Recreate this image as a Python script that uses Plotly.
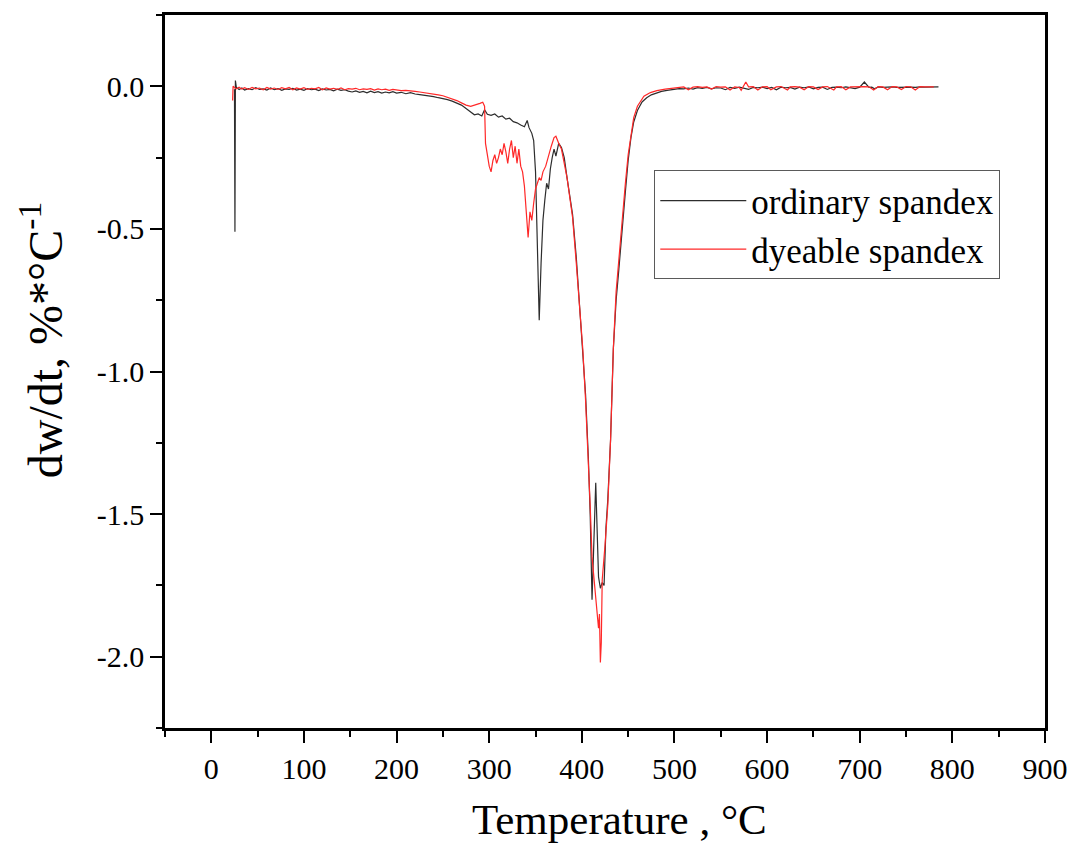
import plotly.graph_objects as go

# ---------------- data ----------------
ord_T = [25, 25.5, 26, 27, 30, 33, 36, 40, 44, 48, 52, 56, 60, 64, 68, 72, 76, 80, 84, 88, 92, 96,
         100, 104, 108, 112, 116, 120, 124, 128, 132, 136, 140, 144, 148, 152, 156, 160, 164, 168,
         172, 176, 180, 184, 188, 192, 196, 200, 205, 210, 215, 220, 225, 230, 235, 240, 245, 250,
         255, 260, 265, 270, 275, 280, 284, 288, 292, 295, 298, 302, 306, 310, 314, 318, 322, 326,
         330, 334, 338, 341, 343, 346, 348, 350, 352, 354, 356, 358, 360, 362, 364, 366, 368, 370,
         372, 375, 378, 381, 384, 387, 390, 394, 398, 401, 404, 407, 409, 411, 413, 415, 416, 418,
         420, 422, 424, 426, 428, 431, 434, 437, 440, 444, 447, 450, 453, 456, 460, 465, 470, 475,
         480, 486, 492, 500, 505, 510, 515, 520, 525, 530, 535, 540, 545, 550, 555, 560, 565, 570,
         575, 580, 585, 590, 595, 600, 605, 610, 615, 620, 625, 630, 635, 640, 645, 650, 655, 660,
         665, 670, 675, 680, 685, 690, 695, 700, 705, 710, 713, 716, 720, 725, 730, 735, 740, 745,
         750, 755, 760, 765, 770, 775, 780, 785, 790, 797]
ord_V = [-0.01, -0.51, 0.02, -0.004, -0.011, -0.006, -0.013, -0.008, -0.012, -0.005, -0.011, -0.009,
         -0.013, -0.006, -0.012, -0.008, -0.014, -0.009, -0.011, -0.007, -0.013, -0.01,
         -0.014, -0.008, -0.012, -0.01, -0.015, -0.009, -0.013, -0.011, -0.016, -0.01, -0.014,
         -0.012, -0.017, -0.02, -0.016, -0.021, -0.018, -0.023, -0.017, -0.022, -0.019, -0.024,
         -0.02, -0.023, -0.019, -0.024, -0.021, -0.026, -0.022, -0.027, -0.029, -0.031, -0.034,
         -0.036, -0.04, -0.043, -0.047, -0.052, -0.058, -0.066, -0.078, -0.092, -0.1, -0.097,
         -0.104, -0.082, -0.098, -0.102, -0.097, -0.108, -0.104, -0.115, -0.112, -0.124, -0.128,
         -0.136, -0.142, -0.12, -0.145, -0.165, -0.19, -0.3, -0.6, -0.82, -0.62, -0.47, -0.4,
         -0.34, -0.36, -0.29, -0.25, -0.22, -0.245, -0.2, -0.215, -0.25, -0.32, -0.38, -0.45, -0.6,
         -0.78, -0.92, -1.08, -1.3, -1.5, -1.8, -1.6, -1.39, -1.5, -1.72, -1.76, -1.74, -1.75,
         -1.55, -1.45, -1.24, -0.92, -0.75, -0.64, -0.5, -0.37, -0.26, -0.18, -0.125, -0.085,
         -0.055, -0.04, -0.03, -0.024, -0.018, -0.014, -0.01, -0.008, -0.009, -0.006, -0.01,
         -0.005, -0.007, -0.004, -0.009, -0.005, -0.006, -0.012, -0.004, -0.007, -0.003, -0.006,
         -0.011, -0.004, -0.005, -0.003, -0.008, -0.004, -0.012, -0.003, -0.005, -0.004, -0.01,
         -0.003, -0.005, -0.002, -0.009, -0.004, -0.003, -0.011, -0.004, -0.003, -0.005, -0.002,
         -0.004, -0.008, -0.003, 0.015, -0.004, -0.003, -0.009, -0.002, -0.004, -0.003, -0.002,
         -0.004, -0.003, -0.002, -0.003, -0.004, -0.002, -0.003, -0.002, -0.003, -0.002]

dye_T = [23, 23.5, 25, 27, 30, 33, 36, 40, 44, 48, 52, 56, 60, 64, 68, 72, 76, 80, 84, 88, 92, 96,
         100, 104, 108, 112, 116, 120, 124, 128, 132, 136, 140, 144, 148, 152, 156, 160, 164, 168,
         172, 176, 180, 184, 188, 192, 196, 200, 205, 210, 215, 220, 225, 230, 235, 240, 245, 250,
         255, 260, 265, 270, 275, 280, 285, 290, 293, 295, 296, 298, 300, 302, 304, 306, 308, 310,
         312, 314, 316, 318, 320, 322, 324, 326, 328, 330, 332, 334, 336, 338, 340, 342, 344, 346,
         348, 350, 352, 354, 356, 358, 361, 364, 367, 370, 372, 375, 378, 381, 384, 387, 390, 394,
         398, 401, 404, 406, 409, 411, 413, 415, 417, 418, 419, 420, 421, 422, 425, 428, 431, 434,
         437, 440, 444, 447, 450, 453, 456, 460, 467, 474, 481, 490, 500, 505, 510, 515, 520, 525,
         530, 535, 540, 545, 550, 555, 560, 565, 570, 572, 577, 580, 585, 590, 595, 600, 604, 610,
         615, 622, 625, 630, 635, 640, 645, 650, 655, 660, 665, 672, 675, 680, 685, 690, 695, 700,
         705, 710, 715, 720, 725, 730, 735, 740, 745, 750, 755, 760, 765, 770, 775, 780, 785, 790,
         797]
dye_V = [-0.05, 0.0, -0.004, -0.009, -0.003, -0.01, -0.005, -0.011, -0.004, -0.009, -0.006,
         -0.012, -0.004, -0.01, -0.006, -0.011, -0.005, -0.009, -0.004, -0.012, -0.006, -0.01,
         -0.005, -0.011, -0.007, -0.009, -0.004, -0.012, -0.006, -0.01, -0.007, -0.011, -0.006,
         -0.012, -0.008, -0.01, -0.007, -0.012, -0.009, -0.011, -0.008, -0.013, -0.009, -0.012,
         -0.01, -0.014, -0.011, -0.013, -0.015, -0.014, -0.017, -0.018, -0.02, -0.022, -0.024,
         -0.026, -0.03, -0.033, -0.038, -0.044, -0.05, -0.058, -0.066, -0.07, -0.066, -0.06,
         -0.056, -0.07, -0.2, -0.25, -0.28, -0.3, -0.26, -0.24, -0.27, -0.25, -0.22, -0.24, -0.2,
         -0.23, -0.27, -0.22, -0.19, -0.25, -0.21, -0.27, -0.22, -0.28, -0.3, -0.35, -0.45, -0.53,
         -0.44, -0.47, -0.41, -0.36, -0.34, -0.32, -0.33, -0.3, -0.28, -0.24, -0.21, -0.18, -0.175,
         -0.2, -0.22, -0.27, -0.32, -0.39, -0.46, -0.62, -0.8, -0.92, -1.1, -1.24, -1.47, -1.65,
         -1.72, -1.78, -1.85, -1.9, -1.85, -2.02, -1.95, -1.73, -1.61, -1.47, -1.24, -0.92, -0.72,
         -0.6, -0.46, -0.34, -0.24, -0.165, -0.11, -0.07, -0.035, -0.022, -0.015, -0.01, -0.005,
         -0.004, -0.002, -0.012, -0.003, -0.001, -0.004, -0.002, -0.01, -0.001, -0.003, -0.002,
         -0.013, -0.002, -0.004, -0.014, 0.015, -0.002, -0.001, -0.013, -0.002, -0.001, -0.012,
         -0.002, -0.001, -0.013, -0.002, -0.001, -0.003, -0.012, -0.001, -0.002, -0.011, -0.002,
         -0.001, -0.013, -0.002, -0.001, -0.012, -0.002, -0.001, -0.002, -0.001, -0.002, -0.013,
         -0.001, -0.002, -0.012, -0.001, -0.002, -0.011, -0.001, -0.002, -0.013, -0.001, -0.002,
         -0.001, -0.002]

x_ticks = [0, 100, 200, 300, 400, 500, 600, 700, 800, 900]
y_ticks = [0.0, -0.5, -1.0, -1.5, -2.0]
y_ticktext = ["0.0", "-0.5", "-1.0", "-1.5", "-2.0"]
x_title = "Temperature , °C"
y_title = "dw/dt, %*°C<sup>-1</sup>"

FONT = "Liberation Serif, Times New Roman, serif"

fig = go.Figure()
fig.add_trace(go.Scatter(x=ord_T, y=ord_V, mode="lines", name="ordinary spandex",
                         line=dict(color="rgb(45,45,45)", width=1.2)))
fig.add_trace(go.Scatter(x=dye_T, y=dye_V, mode="lines", name="dyeable spandex",
                         line=dict(color="rgb(255,40,40)", width=1.2)))

axis_common = dict(showline=True, linecolor="black", linewidth=2.5, mirror=True,
                   showgrid=False, zeroline=False, ticks="outside", ticklen=12,
                   tickwidth=2, tickcolor="black", automargin=False,
                   tickfont=dict(family=FONT, size=30, color="black"))

fig.update_xaxes(range=[-50, 900], tickvals=x_ticks,
                 minor=dict(dtick=50, tick0=0, ticks="outside", ticklen=6, tickwidth=2,
                            tickcolor="black"),
                 **axis_common)
fig.update_yaxes(range=[-2.25, 0.25], tickvals=y_ticks, ticktext=y_ticktext,
                 minor=dict(dtick=0.25, tick0=0, ticks="outside", ticklen=6, tickwidth=2,
                            tickcolor="black"),
                 **axis_common)

fig.add_annotation(text=x_title, xref="paper", yref="paper", x=0.516, y=-0.128,
                   xanchor="center", yanchor="middle", showarrow=False,
                   font=dict(family=FONT, size=43, color="black"))
fig.add_annotation(text=y_title, xref="paper", yref="paper", x=-0.14, y=0.545,
                   xanchor="center", yanchor="middle", showarrow=False, textangle=-90,
                   font=dict(family=FONT, size=48, color="black"))

fig.update_layout(
    width=1073, height=845,
    margin=dict(l=165, r=28, t=15, b=117),
    paper_bgcolor="white", plot_bgcolor="white",
    showlegend=True,
    legend=dict(x=0.556, y=0.782, xanchor="left", yanchor="top",
                bordercolor="rgb(90,90,90)", borderwidth=1, bgcolor="white",
                font=dict(family=FONT, size=35, color="black"),
                itemwidth=86, tracegroupgap=0),
)

fig.write_html("out.html")
